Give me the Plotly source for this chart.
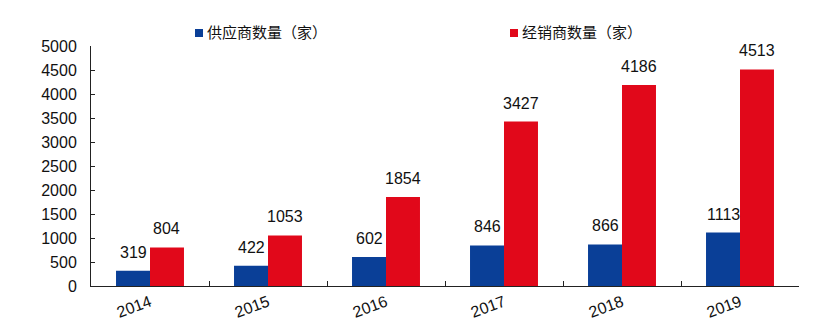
import plotly.graph_objects as go

years = ["2014", "2015", "2016", "2017", "2018", "2019"]
suppliers = [319, 422, 602, 846, 866, 1113]
distributors = [804, 1053, 1854, 3427, 4186, 4513]
y_ticks = [0, 500, 1000, 1500, 2000, 2500, 3000, 3500, 4000, 4500, 5000]
series_names = ["供应商数量（家）", "经销商数量（家）"]

BLUE = "#0a3f97"
RED = "#e1081a"
FONT = "Arial, Liberation Sans, Noto Sans CJK SC, sans-serif"

fig = go.Figure()
fig.add_trace(go.Bar(name=series_names[0], x=years, y=suppliers, marker_color=BLUE,
                     marker_line_width=0))
fig.add_trace(go.Bar(name=series_names[1], x=years, y=distributors, marker_color=RED,
                     marker_line_width=0))

off = 0.144
for i, (s, d) in enumerate(zip(suppliers, distributors)):
    for v, dx in ((s, -off), (d, off)):
        fig.add_annotation(x=i + dx, y=v, text=str(v), showarrow=False,
                           yanchor="bottom", yshift=8,
                           font=dict(size=16, color="#111", family=FONT))

# custom legend (square + label) placed in the top margin
W, H, L, T = 824, 335, 91, 46
pw, ph = W - L - 25, H - T - 49
def px(x): return (x - L) / pw
def py(y): return (H - 49 - y) / ph
for name, col, x0 in ((series_names[0], BLUE, 195), (series_names[1], RED, 510)):
    fig.add_shape(type="rect", xref="paper", yref="paper",
                  x0=px(x0), x1=px(x0 + 8), y0=py(37), y1=py(29),
                  fillcolor=col, line_width=0)
    fig.add_annotation(xref="paper", yref="paper", x=px(x0 + 10), y=py(33),
                       xanchor="left", yanchor="middle", text=name, showarrow=False,
                       font=dict(size=15, color="#111", family=FONT))

fig.update_layout(
    width=W, height=H,
    margin=dict(l=L, r=25, t=T, b=49, autoexpand=False),
    paper_bgcolor="white", plot_bgcolor="white",
    barmode="group", bargap=0.424, bargroupgap=0,
    font=dict(family=FONT, size=16, color="#111"),
    showlegend=False,
)
fig.update_xaxes(type="category", showline=True, linecolor="#222", linewidth=1,
                 ticks="inside", ticklen=5, tickcolor="#222", tickson="boundaries",
                 tickangle=-20, tickfont=dict(size=16), showgrid=False)
fig.update_yaxes(range=[0, 5000], tickvals=y_ticks, showline=True, linecolor="#222",
                 linewidth=1, ticks="inside", ticklen=4, tickcolor="#222",
                 showgrid=False, zeroline=False, tickfont=dict(size=16),
                 ticklabelstandoff=10)

fig.write_html("out.html")
